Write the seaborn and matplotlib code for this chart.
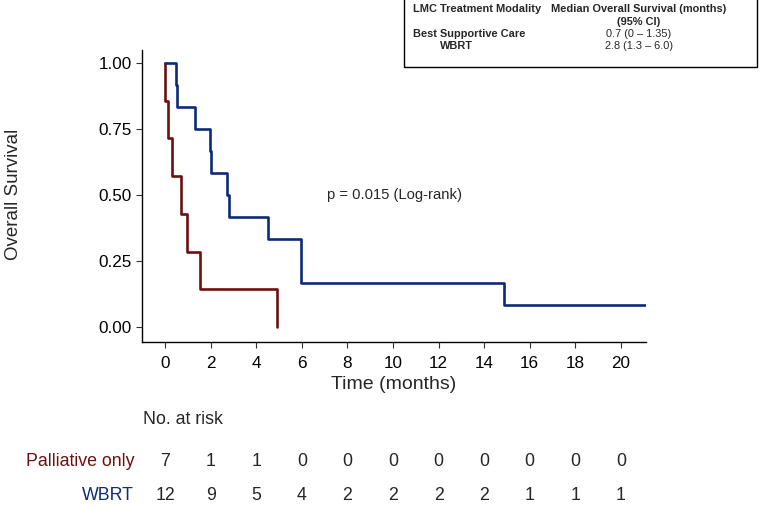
import numpy as np
import pandas as pd
import matplotlib
matplotlib.use("Agg")
import matplotlib.pyplot as plt
import matplotlib.transforms as mtransforms
from matplotlib.patches import Rectangle
import seaborn as sns

# Kaplan-Meier step data
pall_time = [0, 0, 0.15, 0.32, 0.70, 0.95, 1.53, 4.93]
pall_surv = [1.0, 0.857, 0.714, 0.571, 0.429, 0.286, 0.143, 0.0]
wbrt_time = [0, 0.47, 0.54, 1.33, 1.97, 2.03, 2.70, 2.80, 4.53, 5.98, 14.87, 21.1]
wbrt_surv = [1.0, 0.917, 0.833, 0.75, 0.667, 0.583, 0.5, 0.417, 0.333, 0.167, 0.083, 0.083]

risk_times = [0, 2, 4, 6, 8, 10, 12, 14, 16, 18, 20]
risk_pall = [7, 1, 1, 0, 0, 0, 0, 0, 0, 0, 0]
risk_wbrt = [12, 9, 5, 4, 2, 2, 2, 2, 1, 1, 1]

x_ticks = [0, 2, 4, 6, 8, 10, 12, 14, 16, 18, 20]
y_ticks = [0.0, 0.25, 0.5, 0.75, 1.0]

RED = "#6e1010"
BLUE = "#0c2a78"

df = pd.concat([
    pd.DataFrame({"time": pall_time, "surv": pall_surv, "group": "Palliative only"}),
    pd.DataFrame({"time": wbrt_time, "surv": wbrt_surv, "group": "WBRT"}),
], ignore_index=True)

sns.set_style("ticks")
plt.rcParams["font.family"] = ["Liberation Sans", "DejaVu Sans"]

fig = plt.figure(figsize=(7.62, 5.09), dpi=100)
ax = fig.add_axes([142 / 762, 1 - 342 / 509, (646 - 142) / 762, (342 - 49.5) / 509])

sns.lineplot(data=df, x="time", y="surv", hue="group", sort=False, estimator=None,
             drawstyle="steps-post", palette={"Palliative only": RED, "WBRT": BLUE},
             linewidth=1.9, legend=False, ax=ax)

ax.set_xlim(-1.01, 21.1)
ax.set_ylim(-0.0556, 1.05)
ax.set_xticks(x_ticks)
ax.set_yticks(y_ticks)
ax.set_yticklabels([f"{v:.2f}" for v in y_ticks])
ax.tick_params(labelsize=12.3, length=4, width=0.8, colors="#333333", labelcolor="black")
ax.tick_params(axis="x", pad=6)
ax.set_xlabel("Time (months)", fontsize=14, labelpad=4)
ax.set_ylabel("Overall Survival", fontsize=13.5)
ax.yaxis.set_label_coords(-0.238, 0.505)
for s in ["left", "bottom"]:
    ax.spines[s].set_color("black")
    ax.spines[s].set_linewidth(1)
sns.despine(ax=ax)

ax.text(7.1, 0.5, "p = 0.015 (Log-rank)", fontsize=10.6, ha="left", va="center")

# risk table below the plot
trans = mtransforms.blended_transform_factory(ax.transData, fig.transFigure)
fig.text(143 / 762, 1 - 420 / 509, "No. at risk", fontsize=12.8, ha="left", va="center")
fig.text(134 / 762, 1 - 462 / 509, "Palliative only", fontsize=12.8, color=RED, ha="right", va="center")
fig.text(134 / 762, 1 - 496 / 509, "WBRT", fontsize=12.8, color=BLUE, ha="right", va="center")
for t, a, b in zip(risk_times, risk_pall, risk_wbrt):
    ax.text(t, 1 - 462 / 509, str(a), transform=trans, fontsize=12.8, ha="center", va="center", clip_on=False)
    ax.text(t, 1 - 496 / 509, str(b), transform=trans, fontsize=12.8, ha="center", va="center", clip_on=False)

# median survival table in the top right corner
fig.patches.append(Rectangle((404 / 762, 1 - 67 / 509), 353 / 762, 67 / 509 + 0.01,
                             transform=fig.transFigure, fill=False, edgecolor="black", linewidth=1))
fs = 7.9
fig.text(413 / 762, 1 - 9 / 509, "LMC Treatment Modality", fontsize=fs, weight="bold", va="center")
fig.text(639 / 762, 1 - 9 / 509, "Median Overall Survival (months)", fontsize=fs, weight="bold", ha="center", va="center")
fig.text(639 / 762, 1 - 22 / 509, "(95% CI)", fontsize=fs, weight="bold", ha="center", va="center")
fig.text(413 / 762, 1 - 34 / 509, "Best Supportive Care", fontsize=fs, weight="bold", va="center")
fig.text(639 / 762, 1 - 34 / 509, "0.7 (0 \u2013 1.35)", fontsize=fs, ha="center", va="center")
fig.text(440 / 762, 1 - 46 / 509, "WBRT", fontsize=fs, weight="bold", va="center")
fig.text(639 / 762, 1 - 46 / 509, "2.8 (1.3 \u2013 6.0)", fontsize=fs, ha="center", va="center")

fig.savefig("out.png", dpi=100)
